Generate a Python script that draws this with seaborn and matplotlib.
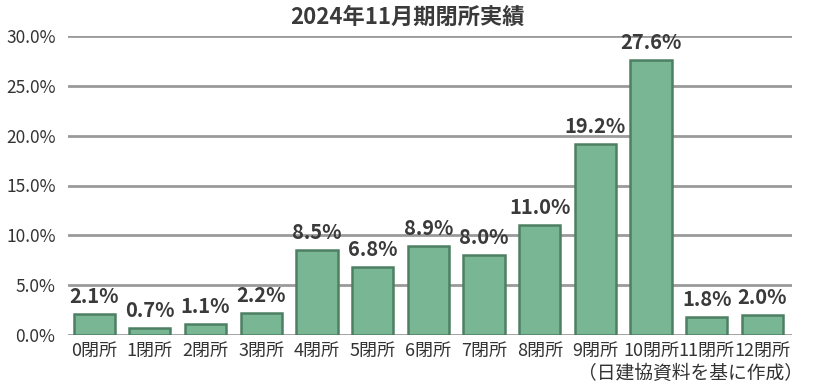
import matplotlib
matplotlib.use("Agg")
import matplotlib.pyplot as plt
import seaborn as sns
import pandas as pd

categories = ["0閉所", "1閉所", "2閉所", "3閉所", "4閉所", "5閉所", "6閉所",
              "7閉所", "8閉所", "9閉所", "10閉所", "11閉所", "12閉所"]
values = [2.1, 0.7, 1.1, 2.2, 8.5, 6.8, 8.9, 8.0, 11.0, 19.2, 27.6, 1.8, 2.0]
yticks = [0, 5, 10, 15, 20, 25, 30]
title = "2024年11月期閉所実績"
source = "（日建協資料を基に作成）"

sns.set_theme(style="white")
plt.rcParams['font.family'] = ['Noto Sans CJK JP', 'DejaVu Sans']

df = pd.DataFrame({"cat": categories, "val": values})

fig = plt.figure(figsize=(8.15, 3.87), dpi=100)
ax = fig.add_axes([68/815, 1-335/387, (792-68)/815, (335-36)/387])

for y in yticks:
    ax.axhline(y, color="#9a9a9a", lw=2, zorder=0)

sns.barplot(data=df, x="cat", y="val", ax=ax, color="#79b694", width=0.74,
            edgecolor="#4d7f62", linewidth=1.8, saturation=1, zorder=2)

for i, v in enumerate(values):
    ax.annotate(f"{v:.1f}%", (i, v), xytext=(0, 5), textcoords="offset points",
                ha="center", va="bottom", fontsize=14.5, fontweight="bold",
                color="#3a3a3a", zorder=3)

ax.set_ylim(0, 30)
ax.set_xlim(-0.47, 12.53)
ax.set_yticks(yticks)
ax.set_yticklabels([f"{t:.1f}%" for t in yticks], fontsize=12.5, color="#333333")
ax.tick_params(axis="x", labelsize=13, colors="#333333", length=0, pad=5)
ax.tick_params(axis="y", length=0, pad=9)
ax.set_xlabel("")
ax.set_ylabel("")
for s in ax.spines.values():
    s.set_visible(False)

fig.text(0.5, 1-17/387, title, ha="center", va="center", fontsize=16,
         fontweight="bold", color="#3a3a3a")
fig.text(803/815, 1-373/387, source, ha="right", va="center", fontsize=13.5,
         color="#333333")

fig.savefig("out.png", dpi=100)
